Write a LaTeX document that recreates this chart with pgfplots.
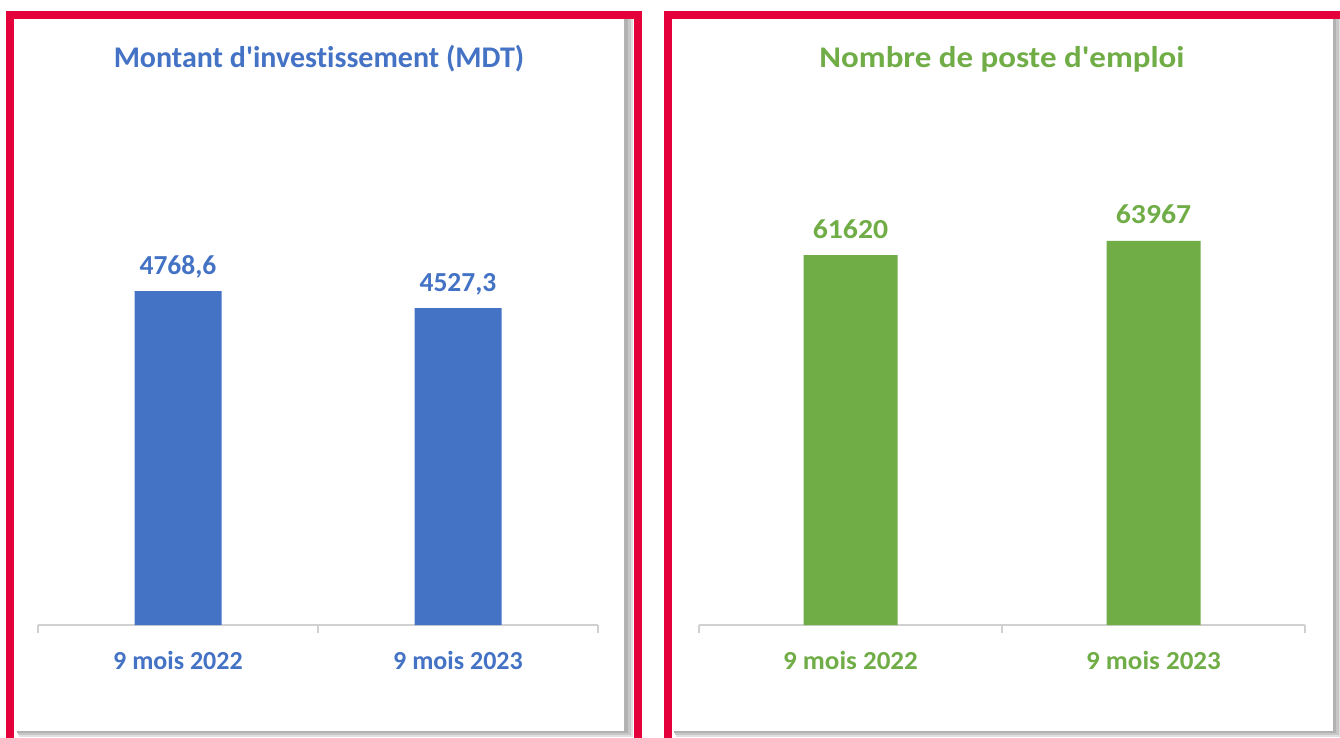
\documentclass[border=0pt]{standalone}
\usepackage{pgfplots}
\pgfplotsset{compat=1.18}
\usepackage{pgfplotstable}
\usepackage{fontspec}
\setmainfont{Carlito}[Ligatures={TeXOff,NoCommon}]
\definecolor{xblue}{HTML}{4472C4}
\definecolor{xgreen}{HTML}{70AD47}
\definecolor{xred}{RGB}{228,0,58}
\definecolor{xaxis}{HTML}{D0D0D0}

\pgfplotstableread{
x y
0 4768.6
1 4527.3
}\invest
\pgfplotstableread{
x y
0 61620
1 63967
}\emploi

\pgfplotsset{
  panel/.style={
    scale only axis, anchor=south west, clip=false,
    xmin=-0.5, xmax=1.5, ymin=0,
    axis y line=none, axis x line*=bottom,
    x axis line style={draw=xaxis, line width=1.3pt},
    xtick={-0.5,0.5,1.5}, xticklabels={},
    major tick length=8pt, tick align=outside,
    x tick style={draw=xaxis, line width=1.3pt},
    extra x ticks={0,1},
    extra x tick style={major tick length=0pt,
      xticklabel style={anchor=base, yshift=-44pt, font=\fontsize{26}{30}\selectfont\bfseries, text=#1}},
    ybar,
    nodes near coords style={anchor=base, yshift=17pt, inner sep=0pt, font=\fontsize{27.5}{30}\selectfont\bfseries, text=#1,
      /pgf/number format/assume math mode=true, /pgf/number format/1000 sep={}},
    point meta=y,
  }
}

\begin{document}
\begin{tikzpicture}
\useasboundingbox (0pt,0pt) rectangle (1340pt,737pt);
\begin{scope}
\clip (0pt,0pt) rectangle (1340pt,737pt);
% left panel shadow + box
\fill[black!12] (19pt,0pt) rectangle (633pt,718pt);
\fill[black!22] (18pt,2pt) rectangle (631pt,718pt);
\fill[black!30] (17pt,4pt) rectangle (628pt,718pt);
\fill[white] (14pt,6pt) rectangle (624pt,718pt);
% right panel shadow + box
\fill[black!12] (676pt,0pt) rectangle (1341pt,718pt);
\fill[black!22] (675pt,2pt) rectangle (1339pt,718pt);
\fill[black!30] (674pt,4pt) rectangle (1336pt,718pt);
\fill[white] (672pt,6pt) rectangle (1333pt,718pt);
% red frames
\draw[xred, line width=8pt] (10pt,-20pt) -- (10pt,722pt) -- (638pt,722pt) -- (638pt,-20pt);
\draw[xred, line width=8pt] (668pt,-20pt) -- (668pt,722pt) -- (1360pt,722pt);
\end{scope}

\node[anchor=base, text=xblue, font=\fontsize{30}{34}\selectfont\bfseries] at (319pt,669pt) {Montant d'investissement (MDT)};
\node[anchor=base, text=xgreen, font=\fontsize{30}{34}\selectfont\bfseries] at (1002pt,669pt) {\scalebox{1.1}[1]{Nombre de poste d'emploi}};

\begin{axis}[panel=xblue, at={(38pt,112pt)}, width=560pt, height=525pt, ymax=7500, bar width=87pt,
  extra x tick labels={9 mois 2022, 9 mois 2023},
  nodes near coords={\pgfmathprintnumber[fixed, fixed zerofill, precision=1, use comma, 1000 sep={}]{\pgfplotspointmeta}}]
\addplot[fill=xblue, draw=none] table[x=x, y=y] {\invest};
\end{axis}

\begin{axis}[panel=xgreen, at={(699pt,112pt)}, width=606pt, height=525pt, ymax=87440, bar width=94pt,
  extra x tick labels={{\scalebox{1.04}[1]{9 mois 2022}}, {\scalebox{1.04}[1]{9 mois 2023}}},
  nodes near coords={\scalebox{1.08}[1]{\pgfmathprintnumber{\pgfplotspointmeta}}}]
\addplot[fill=xgreen, draw=none] table[x=x, y=y] {\emploi};
\end{axis}
\end{tikzpicture}
\end{document}
